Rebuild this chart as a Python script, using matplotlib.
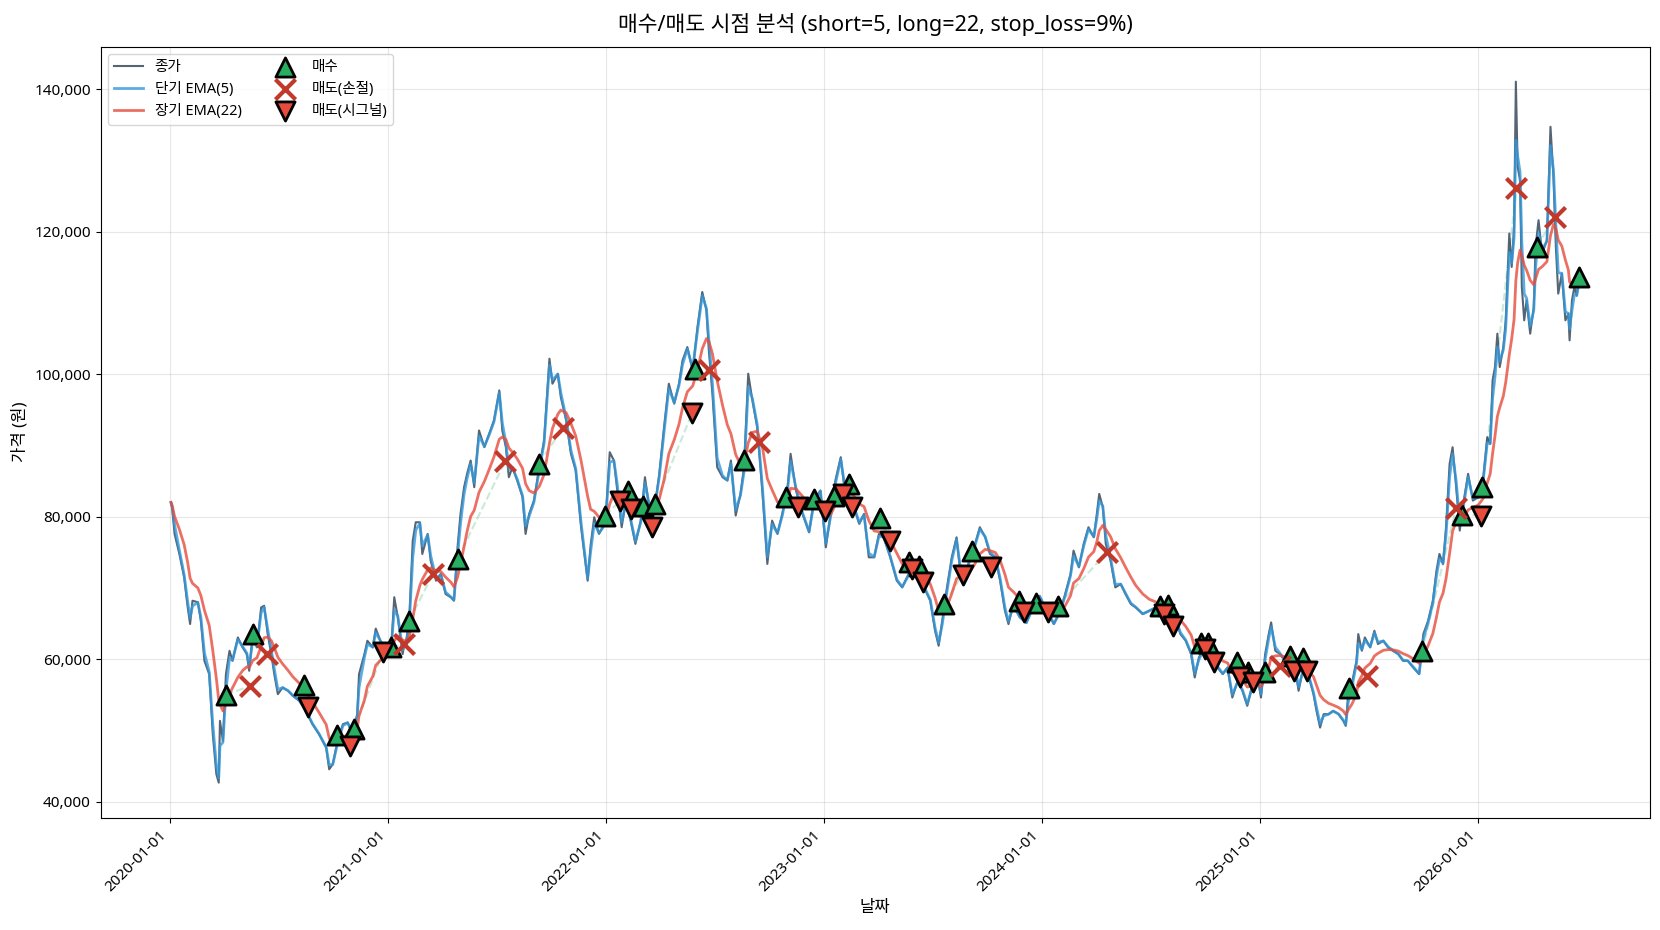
import numpy as np
import pandas as pd
import matplotlib
matplotlib.use('Agg')
import matplotlib.pyplot as plt
import matplotlib.dates as mdates
from matplotlib.ticker import FuncFormatter

plt.rcParams['font.family'] = ['Noto Sans', 'Noto Sans CJK KR', 'DejaVu Sans']
plt.rcParams['axes.unicode_minus'] = False

base = pd.Timestamp('2020-01-01')
short_span, long_span, stop_loss = 5, 22, 9

# close price (days since 2020-01-01, won)
close_day = [2, 4, 8, 16, 24, 30, 34, 38, 47, 52, 58, 66, 72, 78, 82, 84, 89, 94, 100, 105,
             114, 122, 129, 133, 139, 146, 153, 158, 164, 170, 175, 181, 189, 198, 206, 217,
             228, 239, 250, 262, 267, 273, 281, 290, 298, 306, 314, 317, 326, 331, 340, 345,
             354, 362, 368, 371, 376, 382, 390, 393, 396, 401, 407, 412, 419, 423, 432, 437,
             446, 454, 462, 471, 476, 482, 487, 493, 498, 504, 510, 518, 527, 535, 543, 552,
             557, 563, 568, 574, 582, 591, 596, 602, 610, 619, 627, 636, 641, 650, 655, 664,
             672, 680, 689, 700, 705, 711, 719, 725, 730, 737, 744, 749, 757, 764, 772, 780,
             789, 796, 803, 811, 820, 828, 836, 845, 853, 859, 867, 876, 884, 892, 899, 903,
             909, 917, 926, 934, 940, 948, 956, 962, 969, 976, 984, 993, 1001, 1009, 1018, 1026,
             1035, 1040, 1049, 1060, 1071, 1079, 1090, 1099, 1107, 1115, 1124, 1130, 1138, 1146,
             1155, 1163, 1171, 1180, 1188, 1196, 1207, 1218, 1227, 1235, 1246, 1257, 1266, 1274,
             1282, 1288, 1294, 1302, 1310, 1318, 1324, 1333, 1341, 1349, 1357, 1366, 1374, 1383,
             1391, 1399, 1405, 1413, 1424, 1435, 1446, 1457, 1468, 1481, 1492, 1500, 1509, 1514,
             1523, 1531, 1539, 1548, 1553, 1557, 1563, 1568, 1576, 1584, 1593, 1601, 1610, 1618,
             1630, 1641, 1652, 1663, 1674, 1686, 1693, 1702, 1711, 1717, 1724, 1736, 1747, 1755,
             1764, 1772, 1780, 1789, 1797, 1805, 1814, 1822, 1828, 1835, 1841, 1845, 1852, 1860,
             1868, 1877, 1885, 1891, 1899, 1907, 1916, 1921, 1927, 1933, 1941, 1949, 1958, 1966,
             1970, 1974, 1980, 1988, 1991, 1997, 2002, 2011, 2018, 2024, 2033, 2041, 2049, 2058,
             2066, 2074, 2083, 2093, 2100, 2108, 2116, 2122, 2127, 2133, 2138, 2144, 2149, 2155,
             2161, 2166, 2175, 2183, 2192, 2200, 2207, 2212, 2216, 2220, 2224, 2228, 2234, 2238,
             2244, 2248, 2252, 2255, 2258, 2262, 2265, 2269, 2273, 2279, 2285, 2288, 2293, 2299,
             2307, 2313, 2318, 2322, 2326, 2332, 2338, 2343, 2345, 2349, 2353, 2357, 2360]
close_val = [82000, 81100, 77580, 74770, 71490, 67270, 64940, 68210, 68000, 65400, 59780, 57910,
             49480, 43860, 42690, 51350, 48540, 57910, 61190, 59780, 63060, 61660, 60720, 58380,
             63530, 61660, 67270, 67500, 63530, 60720, 57910, 55100, 56040, 55570, 54870, 54170,
             52760, 50890, 49480, 47600, 44560, 45260, 48540, 50890, 51130, 49480, 52290, 57910,
             60720, 62590, 61660, 64300, 62300, 61660, 62000, 61650, 68700, 65870, 60720, 62130,
             62590, 65400, 76640, 79220, 79220, 74770, 77580, 73830, 71020, 71960, 69150, 68680,
             68210, 75700, 80390, 84140, 86010, 87880, 84140, 92100, 89750, 91630, 93500, 97720,
             92100, 89750, 85540, 86950, 85070, 82730, 77580, 80390, 82260, 86950, 90690, 102170,
             98660, 100060, 96780, 93500, 88820, 86480, 78520, 71020, 76000, 79920, 77580, 78520,
             79500, 89050, 87880, 84140, 78520, 82260, 79450, 76180, 79450, 85540, 81330, 80390,
             86010, 92560, 98660, 95850, 98660, 101930, 103800, 100530, 106610, 111530, 108960,
             103340, 97250, 86940, 85540, 85070, 87880, 80160, 83200, 86940, 100060, 96310, 92560,
             83200, 73370, 79450, 77580, 80390, 84140, 88820, 83670, 80390, 77800, 82260, 83670,
             75700, 80390, 85070, 88350, 84140, 82730, 81330, 78990, 80390, 74300, 74300, 77580,
             77110, 74300, 71020, 70080, 71490, 73370, 71490, 69620, 68210, 64000, 61890, 65400,
             70080, 74300, 77110, 72430, 71960, 74300, 76180, 78520, 77110, 74770, 74300, 71020,
             66810, 64930, 67740, 65870, 65100, 67300, 68900, 67000, 64940, 66810, 69150, 71960,
             75240, 72890, 76180, 78520, 77110, 80390, 83200, 81330, 76180, 73830, 70080, 70550,
             69150, 67750, 67270, 66340, 66810, 67270, 66810, 65870, 65400, 63530, 62590, 60720,
             57440, 60250, 62130, 60720, 58850, 57910, 58850, 54630, 56980, 55570, 53460, 56500,
             57700, 54630, 60720, 63530, 65170, 61190, 60720, 59780, 58380, 58850, 55570, 58850,
             57910, 55100, 52760, 50410, 52290, 52290, 52760, 52290, 51350, 50650, 55100, 56500,
             59780, 63530, 61190, 63060, 61660, 64000, 62130, 62590, 61660, 61190, 60720, 59780,
             59780, 58850, 57910, 63530, 65400, 68210, 72430, 74770, 73370, 78520, 87420, 89750,
             84140, 78050, 81330, 86010, 82260, 82730, 85070, 91160, 90220, 99120, 100990, 105680,
             100990, 103800, 107550, 119730, 115040, 120660, 141040, 129090, 127220, 112230,
             107550, 110360, 105680, 109420, 117850, 121600, 116910, 118790, 134710, 127690,
             117850, 111300, 114110, 107550, 108480, 104740, 110360, 112230, 111000, 113200]

buy_day = [94, 139, 224, 280, 309, 371, 401, 482, 618, 729, 768, 792, 813, 879, 962, 1032,
           1080, 1113, 1137, 1190, 1238, 1255, 1297, 1344, 1422, 1451, 1488, 1659, 1673, 1727,
           1740, 1788, 1806, 1835, 1877, 1898, 1975, 2098, 2164, 2199, 2290, 2361]
buy_val = [55000, 63530, 56410, 49380, 50190, 61650, 65400, 74070, 87420, 80160, 83670, 81560,
           81800, 100760, 87980, 82730, 82500, 82970, 84610, 79830, 73600, 73130, 67750, 75140,
           68120, 67850, 67510, 67510, 67600, 62220, 62220, 59550, 58140, 58140, 60480, 60160,
           56030, 61090, 80300, 84140, 117850, 113640]

stop_day = [135, 162, 393, 441, 562, 659, 903, 987, 1570, 1860, 2006, 2155, 2256, 2320]
stop_val = [56270, 60720, 62130, 71960, 87790, 92480, 100530, 90460, 75000, 59080, 57670,
            81270, 126050, 122070]

sig_day = [231, 302, 357, 755, 772, 807, 875, 1053, 1098, 1127, 1143, 1206, 1243, 1261, 1328,
           1375, 1431, 1471, 1666, 1680, 1734, 1750, 1793, 1814, 1884, 1905, 2196]
sig_val = [53320, 47840, 61000, 82260, 81100, 78520, 94530, 81420, 80740, 83200, 81330, 76640,
           72670, 70780, 71870, 72890, 66570, 66570, 66340, 64700, 61430, 59550, 57440, 56740,
           58380, 58380, 80160]


def to_dates(days):
    return base + pd.to_timedelta(np.array(days), unit='D')


dates = to_dates(close_day)
close = pd.Series(close_val, index=dates, dtype=float)
# trading-day spans turned into calendar-day half-lives
hl_short = np.log(0.5) / np.log(1 - 2 / (short_span + 1)) * 1.4
hl_long = np.log(0.5) / np.log(1 - 2 / (long_span + 1)) * 2.3
ema_s = close.ewm(halflife=pd.Timedelta(days=hl_short), times=dates).mean()
ema_l = close.ewm(halflife=pd.Timedelta(days=hl_long), times=dates).mean()

fig, ax = plt.subplots(figsize=(16.6, 9.3), dpi=100)
fig.subplots_adjust(left=0.0606, right=0.9937, top=0.9499, bottom=0.1208)

ax.plot(dates, close, color='#2c3e50', lw=1.5, alpha=0.8, label='종가', zorder=2)
ax.plot(dates, ema_s, color='#3498db', lw=2, alpha=0.8, label=f'단기 EMA({short_span})', zorder=3)
ax.plot(dates, ema_l, color='#e74c3c', lw=2, alpha=0.8, label=f'장기 EMA({long_span})', zorder=3)

# trade lines: each buy to the next exit
exits = sorted(zip(stop_day + sig_day, stop_val + sig_val))
for bd, bv in zip(buy_day, buy_val):
    nxt = [e for e in exits if e[0] > bd]
    if nxt:
        ed, ev = nxt[0]
        ax.plot(to_dates([bd, ed]), [bv, ev], color='#27ae60', lw=1.5, ls='--', alpha=0.25, zorder=1)

ax.scatter(to_dates(buy_day), buy_val, marker='^', s=190, color='#27ae60', edgecolors='black',
           linewidths=2, label='매수', zorder=5)
ax.scatter(to_dates(stop_day), stop_val, marker='x', s=210, color='#c0392b', linewidths=3,
           label='매도(손절)', zorder=5)
ax.scatter(to_dates(sig_day), sig_val, marker='v', s=190, color='#e74c3c', edgecolors='black',
           linewidths=2, label='매도(시그널)', zorder=5)

ax.set_title(f'매수/매도 시점 분석 (short={short_span}, long={long_span}, stop_loss={stop_loss}%)',
             fontsize=15.5, pad=11)
ax.set_xlabel('날짜', fontsize=12)
ax.set_ylabel('가격 (원)', fontsize=12)
ax.xaxis.set_major_locator(mdates.YearLocator())
ax.xaxis.set_major_formatter(mdates.DateFormatter('%Y-%m-%d'))
ax.yaxis.set_major_formatter(FuncFormatter(lambda v, p: f'{v:,.0f}'))
plt.setp(ax.get_xticklabels(), rotation=45, ha='right')
ax.tick_params(labelsize=11)
ax.grid(True, alpha=0.3)
ax.legend(loc='upper left', ncol=2, fontsize=10.5)

fig.savefig('out.png', dpi=100)
